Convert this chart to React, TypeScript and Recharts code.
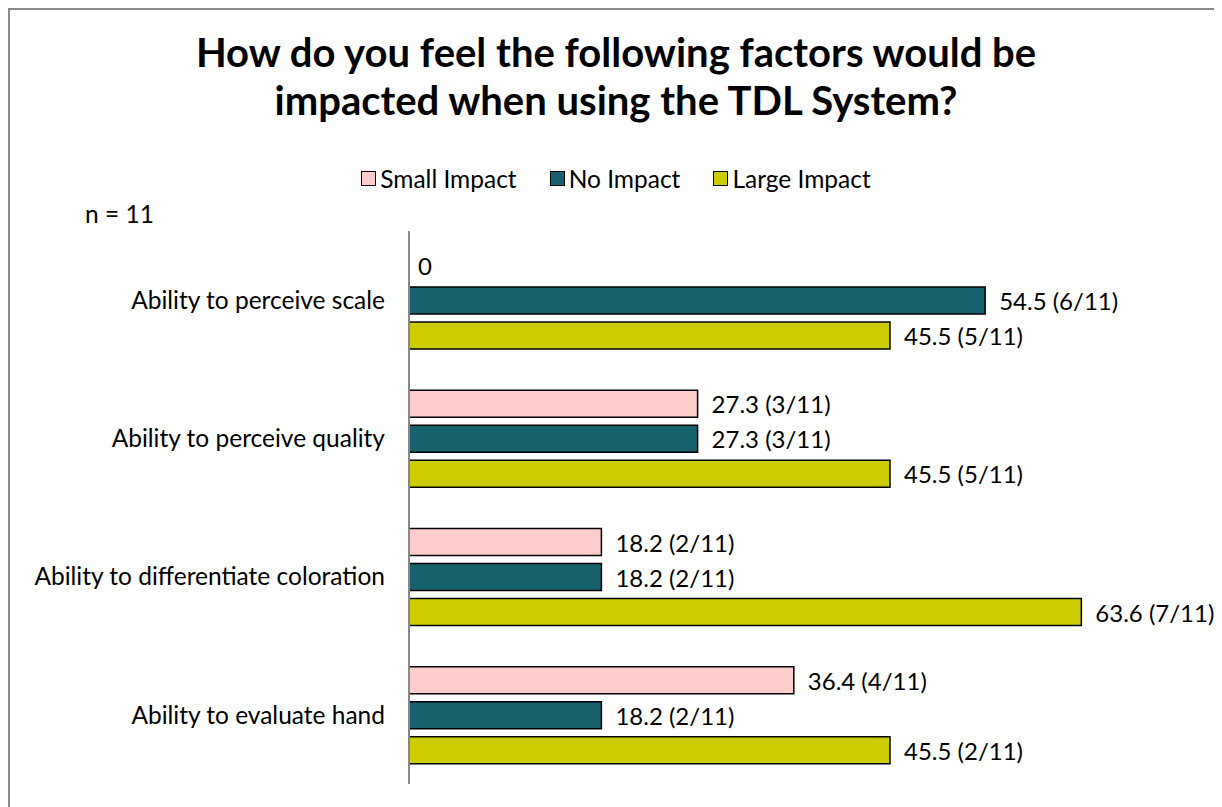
import React from "react";
import { BarChart, Bar, XAxis, YAxis, Legend, LabelList, Cell } from "recharts";

const categories = [
  "Ability to perceive scale",
  "Ability to perceive quality",
  "Ability to differentiate coloration",
  "Ability to evaluate hand",
];
const seriesNames = ["Small Impact", "No Impact", "Large Impact"];
const smallImpact = [0, 27.3, 18.2, 36.4];
const noImpact = [54.5, 27.3, 18.2, 18.2];
const largeImpact = [45.5, 45.5, 63.6, 45.5];
const smallLabels = ["0", "27.3 (3/11)", "18.2 (2/11)", "36.4 (4/11)"];
const noLabels = ["54.5 (6/11)", "27.3 (3/11)", "18.2 (2/11)", "18.2 (2/11)"];
const largeLabels = ["45.5 (5/11)", "45.5 (5/11)", "63.6 (7/11)", "45.5 (2/11)"];

const data = categories.map((name, i) => ({
  name,
  small: smallImpact[i],
  none: noImpact[i],
  large: largeImpact[i],
  smallLabel: smallLabels[i],
  noneLabel: noLabels[i],
  largeLabel: largeLabels[i],
}));

const FONT = "Lato, 'Open Sans', sans-serif";

// keep legend order as in the original (recharts reverses it in vertical layout)
const CustomLegend = ({ payload }: any) => {
  const items = seriesNames
    .map((n) => (payload || []).find((p: any) => p.value === n))
    .filter(Boolean);
  return (
    <div style={{ display: "flex", justifyContent: "center", gap: 33, fontFamily: FONT, fontSize: 24.5, color: "#000" }}>
      {items.map((item: any) => (
        <div key={item.value} style={{ display: "flex", alignItems: "center", gap: 4 }}>
          <div style={{ width: 13, height: 13, border: "1.5px solid #000", backgroundColor: item.color }} />
          <span>{item.value}</span>
        </div>
      ))}
    </div>
  );
};

// value label to the right of the bar, a bit tighter for the empty bar
const BarLabel = (props: any) => {
  const vb = props.viewBox || {};
  const x = props.x ?? vb.x;
  const y = props.y ?? vb.y;
  const width = props.width ?? vb.width ?? 0;
  const height = props.height ?? vb.height ?? 0;
  const gap = props.value === "0" ? 8 : 14;
  return (
    <text
      x={x + width + gap}
      y={y + height / 2}
      dominantBaseline="central"
      fill="#000"
      fontSize={24}
      fontFamily={FONT}
    >
      {props.value}
    </text>
  );
};

export default function App() {
  return (
    <div
      style={{
        position: "relative",
        width: 1214,
        height: 799,
        borderTop: "2px solid #888",
        borderLeft: "2px solid #888",
        boxSizing: "border-box",
        background: "#fff",
      }}
    >
      <div
        style={{
          position: "absolute",
          top: 18,
          left: 0,
          width: 1212,
          textAlign: "center",
          fontFamily: FONT,
          fontWeight: 700,
          fontSize: 40,
          lineHeight: "48px",
          color: "#000",
        }}
      >
        How do you feel the following factors would be
        <br />
        impacted when using the TDL System?
      </div>
      <div style={{ position: "absolute", top: 189, left: 75, fontFamily: FONT, fontSize: 24.5, color: "#000" }}>
        n = 11
      </div>
      <BarChart
        width={1212}
        height={797}
        data={data}
        layout="vertical"
        margin={{ top: 221, right: 73, bottom: 23, left: 0 }}
        barSize={27}
        barGap={8}
        style={{ overflow: "visible" }}
      >
        <XAxis type="number" domain={[0, 70]} hide />
        <YAxis
          type="category"
          dataKey="name"
          width={399}
          axisLine={{ stroke: "#888", strokeWidth: 2 }}
          tickLine={false}
          tickSize={6}
          tickMargin={18}
          tick={{ fill: "#000", fontSize: 24.5, fontFamily: FONT }}
        />
        <Legend
          verticalAlign="middle"
          align="center"
          layout="horizontal"
          wrapperStyle={{ top: 154, left: 0, width: 1212 }}
          content={<CustomLegend />}
        />
        <Bar
          dataKey="small"
          name="Small Impact"
          fill="#FFCCCC"
          stroke="#000"
          strokeWidth={1.5}
          minPointSize={(v: number) => (v === 0 ? 1 : 0)}
          isAnimationActive={false}
        >
          {smallImpact.map((v, i) => (
            <Cell key={i} stroke={v === 0 ? "none" : "#000"} />
          ))}
          <LabelList dataKey="smallLabel" content={BarLabel} />
        </Bar>
        <Bar dataKey="none" name="No Impact" fill="#17606E" stroke="#000" strokeWidth={1.5} isAnimationActive={false}>
          <LabelList dataKey="noneLabel" content={BarLabel} />
        </Bar>
        <Bar dataKey="large" name="Large Impact" fill="#CCCC00" stroke="#000" strokeWidth={1.5} isAnimationActive={false}>
          <LabelList dataKey="largeLabel" content={BarLabel} />
        </Bar>
      </BarChart>
    </div>
  );
}
